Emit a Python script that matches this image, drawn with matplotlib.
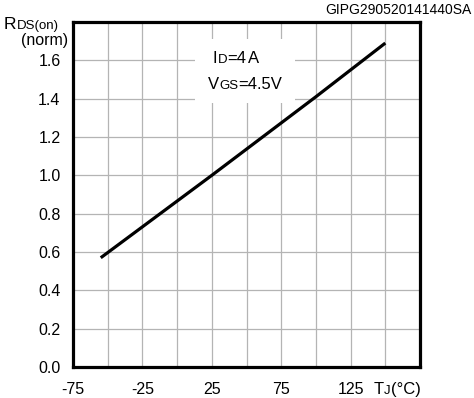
import numpy as np
import matplotlib
matplotlib.use("Agg")
import matplotlib.pyplot as plt
from matplotlib.patches import Rectangle
from matplotlib.offsetbox import TextArea, HPacker, AnnotationBbox

plt.rcParams['font.family'] = ['Liberation Sans', 'DejaVu Sans']
plt.rcParams['axes.unicode_minus'] = False

# data
tj = [-55, 25, 100, 150]
rds_norm = [0.57, 1.0, 1.41, 1.69]

x_ticks = [-75, -25, 25, 75, 125]
y_ticks = [0.0, 0.2, 0.4, 0.6, 0.8, 1.0, 1.2, 1.4, 1.6]

W, H = 474, 398
fig = plt.figure(figsize=(W/100, H/100), dpi=100)
ax = fig.add_axes([73/W, 1 - 367/H, (420-73)/W, (367-22)/H])

ax.set_xlim(-75, 175)
ax.set_ylim(0, 1.8)
ax.set_xticks(x_ticks)
ax.set_xticks(np.arange(-75, 176, 25), minor=True)
ax.set_yticks(y_ticks)
ax.set_yticks([1.8], minor=True)
ax.set_yticklabels(['%.1f' % v for v in y_ticks])
ax.tick_params(which='both', length=0, labelsize=11.5, colors='black')
ax.tick_params(axis='x', pad=11)
ax.tick_params(axis='y', pad=9)
ax.grid(True, which='both', color='#b4b4b4', linewidth=0.9, zorder=0)
ax.set_axisbelow(True)
for s in ax.spines.values():
    s.set_linewidth(2.3)
    s.set_color('black')
    s.set_zorder(5)

# white patch behind the conditions text
ax.add_patch(Rectangle((13, 1.375), 72, 0.335, facecolor='white', edgecolor='none', zorder=1))

ax.plot(tj, rds_norm, color='black', linewidth=2.3, zorder=3, solid_capstyle='butt')


def mixed(parts, x, y, align=(0, 0)):
    boxes = [TextArea(s, textprops=dict(fontsize=fs, color='black')) for s, fs in parts]
    pack = HPacker(children=boxes, align='baseline', pad=0, sep=0)
    ab = AnnotationBbox(pack, (x, H - y), xycoords='figure pixels', frameon=False,
                        box_alignment=align, pad=0)
    fig.add_artist(ab)


mixed([('R', 12.5), ('DS(on)', 9.5)], 4, 32)
fig.text(68/W, 1 - 45/H, '(norm)', fontsize=11.5, ha='right', va='baseline')
mixed([('I', 12), ('D', 9.5), ('=4', 12), (' ', 4), ('A', 12)], 213, 66)
mixed([('V', 12), ('GS', 9.5), ('=4.5V', 12)], 208, 92)
mixed([('T', 12), ('J', 9.5), ('(°C)', 12)], 374, 397)
fig.text(471/W, 1 - 3/H, 'GIPG290520141440SA', fontsize=10, ha='right', va='top')

fig.savefig('out.png', dpi=100)
